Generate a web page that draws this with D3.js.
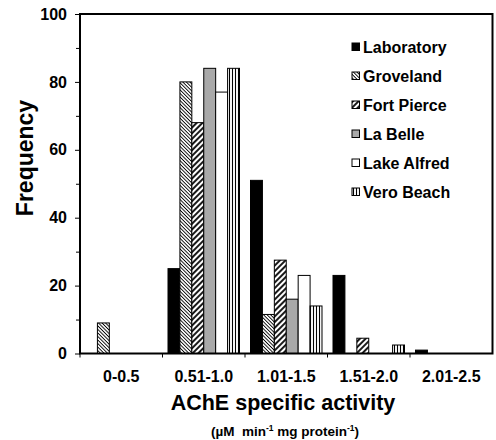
<!DOCTYPE html>
<html><head><meta charset="utf-8">
<script src="https://cdn.jsdelivr.net/npm/d3@7"></script>
<style>body{margin:0;background:#fff}svg{display:block}text{font-family:"Liberation Sans",Arial,sans-serif;font-weight:bold;fill:#000}</style>
</head><body><svg id="c" width="496" height="440"></svg>
<script>
const categories = ["0-0.5","0.51-1.0","1.01-1.5","1.51-2.0","2.01-2.5"];
const seriesNames = ["Laboratory","Groveland","Fort Pierce","La Belle","Lake Alfred","Vero Beach"];
const laboratory = [0,25,51,23,1];
const groveland  = [9,80,11.5,0,0];
const fortPierce = [0,68,27.5,4.5,0];
const laBelle    = [0,84,16,0,0];
const lakeAlfred = [0,77,23,0,0];
const veroBeach  = [0,84,14,2.5,0];
const yTicks = [0,20,40,60,80,100];
const yMinor = [10,30,50,70,90];

const seriesValues = [laboratory,groveland,fortPierce,laBelle,lakeAlfred,veroBeach];
const fills = ["#000","url(#pGrove)","url(#pFort)","#a9a9a9","#fff","url(#pVero)"];

const svg = d3.select("#c");
const defs = svg.append("defs");
function linePat(id, w, sw, rot){
  const p = defs.append("pattern").attr("id",id).attr("patternUnits","userSpaceOnUse")
    .attr("width",w).attr("height",10).attr("patternTransform","rotate("+rot+")");
  p.append("rect").attr("width",w).attr("height",10).attr("fill","#fff");
  p.append("line").attr("x1",w/2).attr("x2",w/2).attr("y1",0).attr("y2",10)
    .attr("stroke","#000").attr("stroke-width",sw);
}
linePat("pGrove",2.5,0.9,-45);
linePat("pFort",4,1.8,45);
linePat("pVero",3,1.1,0);

const L=80,R=492.5,T=14,B=353.5;
const x = d3.scaleBand().domain(categories).range([L,R]).padding(0);
const xs = d3.scaleBand().domain(seriesNames).range([5.5, x.bandwidth()-5.5]).padding(0);
const y = d3.scaleLinear().domain([0,100]).range([B,T]);

// bars
seriesNames.forEach((s,i)=>{
  svg.append("g").selectAll("rect").data(seriesValues[i]).join("rect")
    .attr("x",(d,j)=>x(categories[j])+xs(s))
    .attr("width",xs.bandwidth())
    .attr("y",d=>y(d))
    .attr("height",d=>y(0)-y(d))
    .attr("fill",fills[i])
    .attr("stroke","#000").attr("stroke-width",1)
    .attr("display",d=>d>0?null:"none");
});

// frame
svg.append("rect").attr("x",L).attr("y",T).attr("width",R-L).attr("height",B-T)
  .attr("fill","none").attr("stroke","#000").attr("stroke-width",2);

// y axis
const ya = svg.append("g").attr("transform",`translate(${L},0)`)
  .call(d3.axisLeft(y).tickValues(yTicks).tickSize(5).tickPadding(8).tickFormat(d3.format("d")));
ya.select(".domain").remove();
ya.selectAll("line").attr("stroke","#000").attr("stroke-width",1);
ya.selectAll("text").style("font-size","16px").attr("font-family",null);
const ym = svg.append("g").attr("transform",`translate(${L},0)`)
  .call(d3.axisLeft(y).tickValues(yMinor).tickSize(4).tickFormat(""));
ym.select(".domain").remove();
ym.selectAll("line").attr("stroke","#000");

// x axis ticks at boundaries
const bounds = categories.map(c=>x(c));
svg.append("g").selectAll("line").data(bounds).join("line")
  .attr("x1",d=>d).attr("x2",d=>d).attr("y1",B).attr("y2",B+4).attr("stroke","#000");
svg.append("g").selectAll("text").data(categories).join("text")
  .attr("x",d=>x(d)+x.bandwidth()/2).attr("y",382)
  .attr("text-anchor","middle").style("font-size","16px").text(d=>d);

// axis titles
svg.append("text").attr("x",283).attr("y",410).attr("text-anchor","middle")
  .style("font-size","21.5px").text("AChE specific activity");
const sub = svg.append("text").attr("x",285).attr("y",436).attr("text-anchor","middle").style("font-size","13.5px");
sub.append("tspan").text("(µM\u00A0\u00A0min");
sub.append("tspan").attr("dy",-5).style("font-size","8.5px").text("-1");
sub.append("tspan").attr("dy",5).text("\u00A0mg protein");
sub.append("tspan").attr("dy",-5).style("font-size","8.5px").text("-1");
sub.append("tspan").attr("dy",5).text(")");
svg.append("text").attr("transform","translate(32.5,158) rotate(-90)").attr("text-anchor","middle")
  .style("font-size","23px").text("Frequency");

// legend
const lg = svg.append("g").selectAll("g").data(seriesNames).join("g")
  .attr("transform",(d,i)=>`translate(352,${47+i*29})`);
lg.append("rect").attr("x",0).attr("y",-4).attr("width",7.5).attr("height",7.5)
  .attr("fill",(d,i)=>fills[i]).attr("stroke","#000").attr("stroke-width",1);
lg.append("text").attr("x",11).attr("y",5.8).style("font-size","16px").text(d=>d);
</script></body></html>
